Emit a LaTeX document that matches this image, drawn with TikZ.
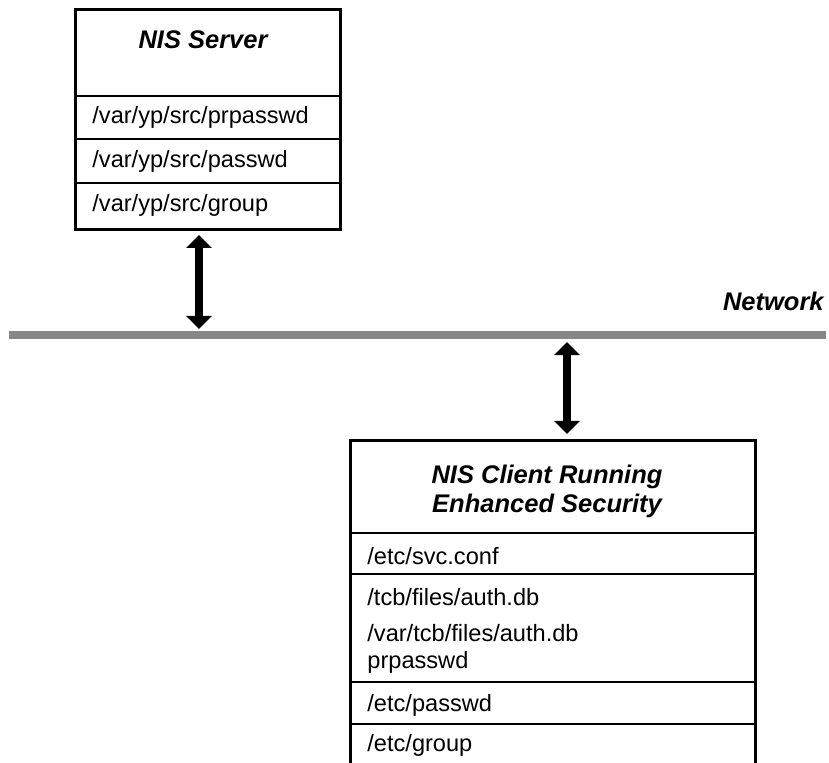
\documentclass[tikz,border=0pt]{standalone}
\usepackage{fontspec}
\setmainfont{Liberation Sans}
\usetikzlibrary{arrows.meta}
\definecolor{netgray}{gray}{0.53}

\begin{document}
\begin{tikzpicture}[x=0.5pt, y=-0.5pt,
    box/.style={draw, line width=1.5pt, inner sep=0pt, outer sep=0pt},
    title/.style={font=\fontsize{12.75pt}{14.5pt}\selectfont\bfseries\itshape, align=center},
    entry/.style={anchor=west, inner sep=0pt, font=\fontsize{11.8pt}{14pt}\selectfont},
    divider/.style={line width=0.7pt},
    link/.style={line width=4pt, {Triangle[width=12.5pt,length=6.5pt]}-{Triangle[width=12.5pt,length=6.5pt]}}]
    \useasboundingbox (0,0) rectangle (829,763);
    \clip (0,0) rectangle (829,763);
    % Servidor NIS
    \node[box, anchor=north, minimum width=132.5pt, minimum height=110pt] (server) at (207.5,9.7) {};
    \node[title] (servertitle) at (203,40) {NIS Server};
    \foreach \y in {96,139,183}
        \draw[divider] (75,\y) -- (340,\y);
    \foreach \y/\t [count=\i] in {117/{/var/yp/src/prpasswd}, 161/{/var/yp/src/passwd}, 205/{/var/yp/src/group}}
        \node[entry] (srow\i) at (92,\y) {\t};
    % Rede
    \node[fill=netgray, inner sep=0pt, outer sep=0pt, minimum width=408.5pt, minimum height=4.25pt] (net) at (417.5,335) {};
    \node[title, anchor=east, inner sep=0pt] (netlabel) at (824,301) {Network};
    % Cliente NIS
    \node[box, anchor=north, minimum width=202.5pt, minimum height=229.5pt] (client) at (552.5,441) {};
    \node[title] (clienttitle) at (547,491) {NIS Client Running\\Enhanced Security};
    \foreach \y in {533,574,682,724}
        \draw[divider] (350,\y) -- (755,\y);
    \foreach \y/\t [count=\i] in {556/{/etc/svc.conf}, 597/{/tcb/files/auth.db}, 633/{/var/tcb/files/auth.db},
            662/{prpasswd}, 705/{/etc/passwd}, 745/{/etc/group}}
        \node[entry] (crow\i) at (367,\y) {\t};
    % Setas
    \draw[link] ([xshift=-4.25pt,yshift=-2.65pt]server.south) -- ([xshift=-4.25pt,yshift=0.9pt]server.south |- net.north);
    \draw[link] ([xshift=7.25pt,yshift=-1.4pt]client.north |- net.south) -- ([xshift=7.25pt,yshift=3.5pt]client.north);
\end{tikzpicture}
\end{document}
